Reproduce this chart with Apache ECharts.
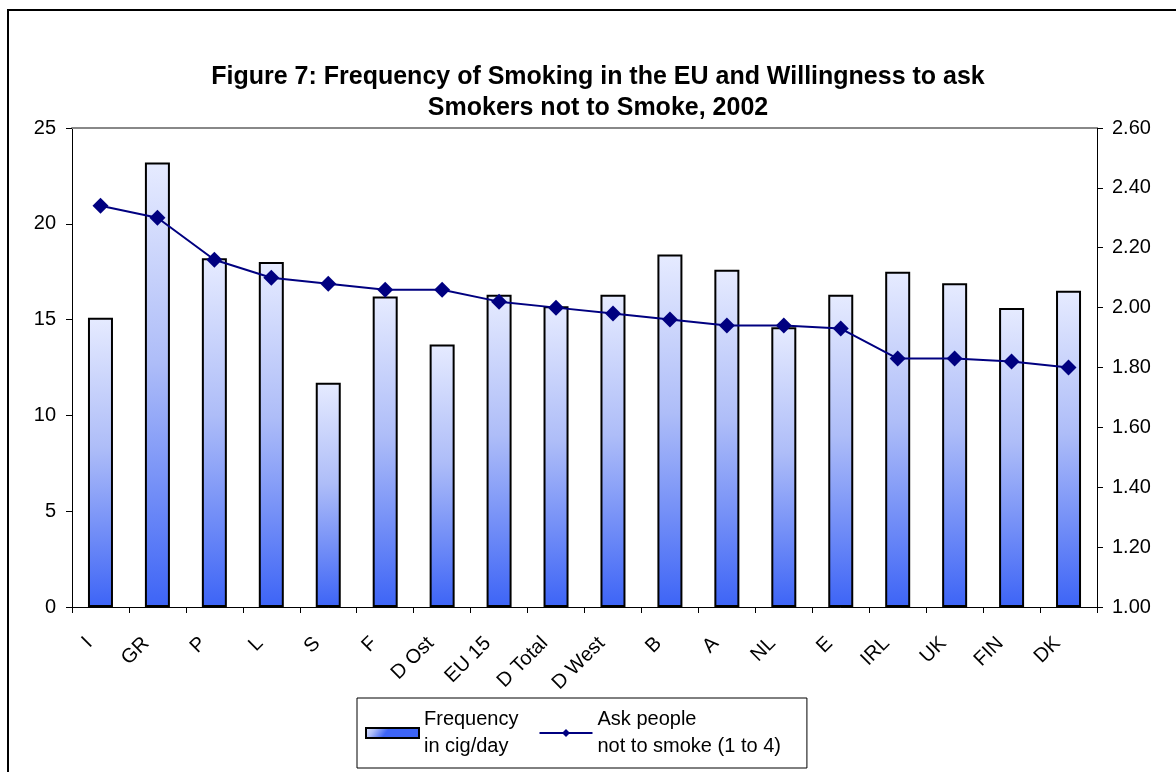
<!DOCTYPE html>
<html>
<head>
<meta charset="utf-8">
<script src="https://cdn.jsdelivr.net/npm/echarts@6/dist/echarts.min.js"></script>
<style>
  html, body { margin: 0; padding: 0; background: #fff; }
  #main { width: 1176px; height: 772px; }
</style>
</head>
<body>
<div id="main"></div>
<script>
// categories and values
const countries = ['I', 'GR', 'P', 'L', 'S', 'F', 'D Ost', 'EU 15', 'D Total', 'D West',
  'B', 'A', 'NL', 'E', 'IRL', 'UK', 'FIN', 'DK']
// cigarettes per day (left axis)
const frequency = [15.1, 23.2, 18.2, 18.0, 11.7, 16.2, 13.7, 16.3, 15.7, 16.3,
  18.4, 17.6, 14.6, 16.3, 17.5, 16.9, 15.6, 16.5]
// willingness to ask people not to smoke, 1 to 4 (right axis)
const askPeople = [2.34, 2.30, 2.16, 2.10, 2.08, 2.06, 2.06, 2.02, 2.00, 1.98,
  1.96, 1.94, 1.94, 1.93, 1.83, 1.83, 1.82, 1.80]

const font = 'Liberation Sans, Arial, sans-serif'

const barFill = new echarts.graphic.LinearGradient(0, 0, 0.3, 1, [
  { offset: 0, color: '#e6ebff' },
  { offset: 0.45, color: '#aebdf8' },
  { offset: 1, color: '#3d64f6' }
])

const chart = echarts.init(document.getElementById('main'))
chart.setOption({
  backgroundColor: '#fff',
  animation: false,
  title: {
    text: 'Figure 7: Frequency of Smoking in the EU and Willingness to ask\nSmokers not to Smoke, 2002',
    left: 593,
    textAlign: 'center',
    top: 57,
    textStyle: {
      fontFamily: font,
      fontSize: 25,
      fontWeight: 'bold',
      color: '#000',
      lineHeight: 31
    }
  },
  // outer chart frame (only left and top edges are in view)
  graphic: [{
    type: 'rect',
    shape: { x: 8, y: 10, width: 1300, height: 900 },
    style: { fill: 'none', stroke: '#000', lineWidth: 2 },
    silent: true
  }],
  legend: {
    left: 357,
    top: 698,
    orient: 'horizontal',
    padding: [8, 26, 8, 8],
    itemGap: 20,
    itemWidth: 53,
    itemHeight: 10,
    borderColor: '#000',
    borderWidth: 1,
    textStyle: { fontFamily: font, fontSize: 20, color: '#000', lineHeight: 27 },
    data: [
      { name: 'Frequency\nin cig/day', icon: 'rect' },
      { name: 'Ask people\nnot to smoke (1 to 4)' }
    ]
  },
  grid: {
    left: 72,
    right: 79,
    top: 128,
    bottom: 165
  },
  xAxis: [
    {
      type: 'category',
      data: countries,
      position: 'bottom',
      axisLine: { lineStyle: { color: '#000', width: 1 } },
      axisTick: { show: true, length: 6, lineStyle: { color: '#000' } },
      axisLabel: {
        rotate: 45,
        margin: 22,
        padding: [0, 16, 0, 0],
        interval: 0,
        fontFamily: font,
        fontSize: 20,
        color: '#000'
      }
    },
    {
      // thin grey top edge of the plot area
      type: 'category',
      data: countries,
      position: 'top',
      axisLine: { lineStyle: { color: '#888', width: 2 } },
      axisTick: { show: false },
      axisLabel: { show: false }
    }
  ],
  yAxis: [
    {
      type: 'value',
      min: 0,
      max: 25,
      interval: 5,
      axisLine: { show: true, lineStyle: { color: '#000' } },
      axisTick: { show: true, length: 6, lineStyle: { color: '#000' } },
      splitLine: { show: false },
      axisLabel: { margin: 16, fontFamily: font, fontSize: 20, color: '#000' }
    },
    {
      type: 'value',
      min: 1,
      max: 2.6,
      interval: 0.2,
      position: 'right',
      axisLine: { show: true, lineStyle: { color: '#000' } },
      axisTick: { show: true, length: 6, lineStyle: { color: '#000' } },
      splitLine: { show: false },
      axisLabel: {
        margin: 15,
        fontFamily: font,
        fontSize: 20,
        color: '#000',
        formatter: v => v.toFixed(2)
      }
    }
  ],
  series: [
    {
      name: 'Frequency\nin cig/day',
      type: 'bar',
      data: frequency,
      barWidth: 25,
      itemStyle: { color: barFill, borderColor: '#000', borderWidth: 2 }
    },
    {
      name: 'Ask people\nnot to smoke (1 to 4)',
      type: 'line',
      yAxisIndex: 1,
      data: askPeople,
      symbol: 'diamond',
      symbolSize: 16,
      itemStyle: { color: '#000080' },
      lineStyle: { color: '#000080', width: 2 }
    }
  ]
})
</script>
</body>
</html>
